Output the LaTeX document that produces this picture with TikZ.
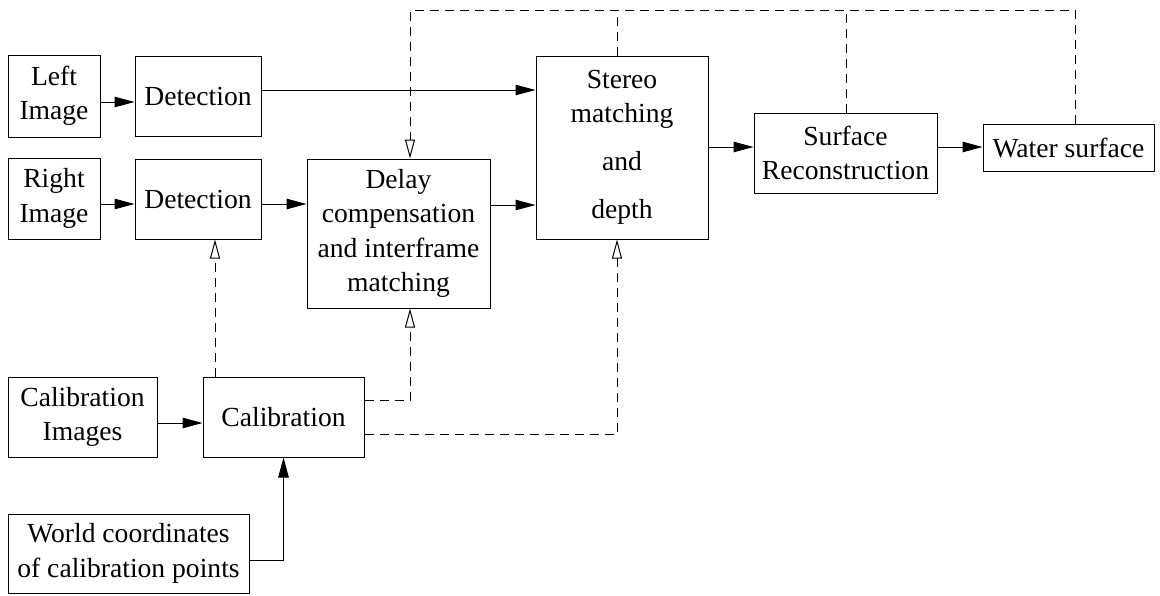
\documentclass[tikz,border=0pt]{standalone}
\usepackage{fontspec}
\setmainfont{Liberation Serif}
\usetikzlibrary{arrows.meta,calc}
\begin{document}
\begin{tikzpicture}[x=1pt,y=-1pt,
  box/.style={draw, line width=1pt, inner sep=0pt, align=center,
    font=\fontsize{27.6}{34.5}\selectfont},
  solidarrow/.style={line width=1pt, -{Triangle[length=20pt,width=10.5pt]}},
  dasharrow/.style={line width=1pt, dash pattern=on 9pt off 6pt,
    -{Triangle[open,length=19pt,width=10pt,line width=1pt]}},
  dashline/.style={line width=1pt, dash pattern=on 9pt off 6pt}]
\useasboundingbox (0,0) rectangle (1160,595);

\node[box, minimum width=92, minimum height=82] (left) at (54,96) {Left\\Image};
\node[box, minimum width=126, minimum height=80] (det1) at (198,96) {Detection};
\node[box, minimum width=92, minimum height=81] (right) at (54,198.5) {Right\\Image};
\node[box, minimum width=126, minimum height=80] (det2) at (198,199) {Detection};
\node[box, minimum width=183, minimum height=149] (delay) at (398.5,233.5) {Delay\\compensation\\and interframe\\matching};
\node[box, minimum width=172, minimum height=183] (stereo) at (622,147.5) {Stereo\\matching\\[13.5pt]and\\[13.5pt]depth};
\node[box, minimum width=183, minimum height=80] (surf) at (845.5,153) {Surface\\Reconstruction};
\node[box, minimum width=171, minimum height=47] (water) at (1068.5,147.5) {Water surface};
\node[box, minimum width=149, minimum height=80] (calimg) at (82.5,417) {Calibration\\Images};
\node[box, minimum width=161, minimum height=80] (calib) at (283.5,417) {Calibration};
\node[box, minimum width=241, minimum height=79] (world) at (128.5,553.5) {World coordinates\\of calibration points};

\coordinate (top) at (0,10);

% solid arrows
\draw[solidarrow] ([yshift=-6pt]left.east) -- ([yshift=-6pt]det1.west);
\draw[solidarrow] ([yshift=6pt]det1.east) -- (stereo.west |- 0,90);
\draw[solidarrow] ([yshift=-5.5pt]right.east) -- ([yshift=-5pt]det2.west);
\draw[solidarrow] ([yshift=-5pt]det2.east) -- (delay.west |- 0,204);
\draw[solidarrow] (delay.east |- 0,205) -- (stereo.west |- 0,205);
\draw[solidarrow] (stereo.east |- 0,147) -- (surf.west |- 0,147);
\draw[solidarrow] (surf.east |- 0,147) -- (water.west |- 0,147);
\draw[solidarrow] ([yshift=-6pt]calimg.east) -- ([yshift=-6pt]calib.west);
\draw[solidarrow] (world.east |- 0,560) -| (calib.south);

% dashed feedback
\draw[dasharrow] (calib.north -| 215,0) -- (det2.south -| 215,0);
\draw[dasharrow] (calib.east |- 0,400) -| (delay.south -| 410,0);
\draw[dasharrow] (calib.east |- 0,434) -| (stereo.south -| 617,0);
\draw[dasharrow] (water.north -| 1075,0) |- (top -| 410,0) -- (delay.north -| 410,0);
\draw[dashline] (stereo.north -| 617,0) -- (top -| 617,0);
\draw[dashline] (surf.north -| 846,0) -- (top -| 846,0);
\end{tikzpicture}
\end{document}
